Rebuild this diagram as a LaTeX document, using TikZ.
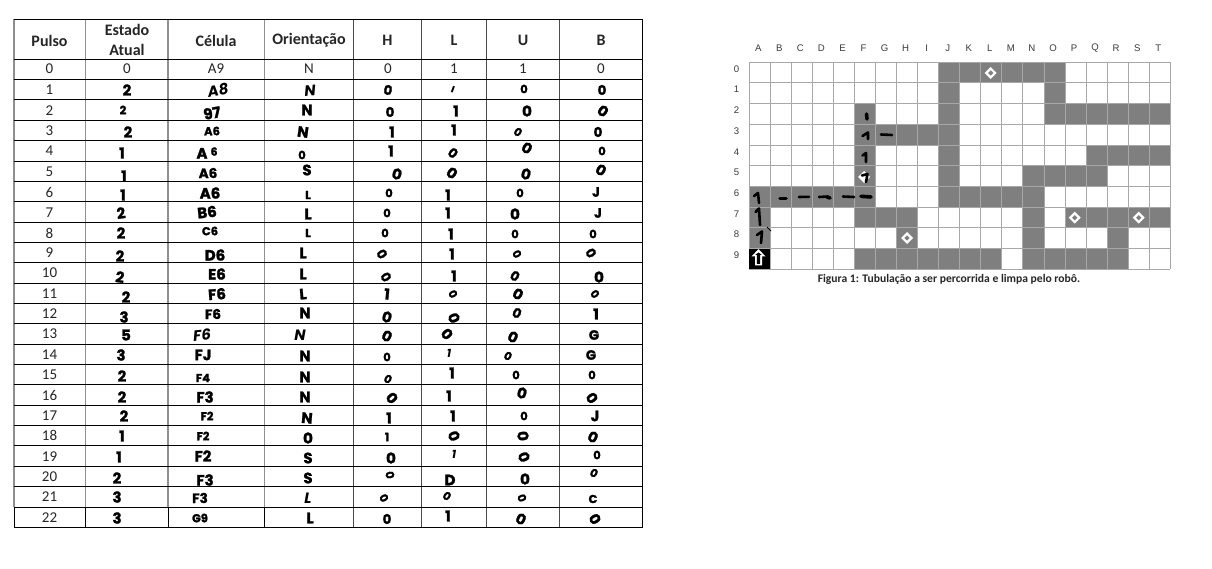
\documentclass[tikz,border=0pt]{standalone}
\usepackage{fontspec}
\setmainfont{Carlito}
\newfontfamily\inkfont[BoldFeatures={FakeBold=1.6}]{Poppins}
\newfontfamily\labfont{Liberation Sans}
\newcount\hwcount
\newcommand{\hw}[4][0]{\global\advance\hwcount by 1
  \node[inktext,rotate=#1] (hw\the\hwcount) at (#2,#3) {#4};}
\newcommand{\hs}[4][0]{\global\advance\hwcount by 1
  \node[inktext,rotate=#1,font=\inkfont\bfseries\fontsize{11.5}{11.5}\selectfont] (hw\the\hwcount) at (#2,#3) {#4};}
\newcommand{\hc}[4][0]{\global\advance\hwcount by 1
  \node[inktext,rotate=#1,font=\inkfont\bfseries\fontsize{13.5}{13.5}\selectfont] (hw\the\hwcount) at (#2,#3) {#4};}
\definecolor{cellgray}{HTML}{7F7F7F}
\definecolor{gridgray}{HTML}{A8A8A8}
\definecolor{labgray}{HTML}{3A3A3A}
\tikzset{
  inktext/.style={inner sep=0pt,font=\inkfont\bfseries\fontsize{15}{15}\selectfont,text=black},
  printed/.style={inner sep=0pt,font=\fontsize{15}{15}\selectfont,text=black!85},
  headtext/.style={inner sep=0pt,font=\bfseries\fontsize{16}{19.5}\selectfont,text=black!85},
  hline/.style={black,line width=0.9pt},
  vgray/.style={gridgray!85!black,line width=1.1pt},
  vdark/.style={black!70,line width=0.9pt},
  gridline/.style={gridgray,line width=1pt},
  inkmark/.style={black,line width=2.6pt,line cap=round,line join=round},
  inkblob/.style={black,line width=3.6pt,line cap=round,line join=round},
  axislabel/.style={inner sep=0pt,font=\labfont\fontsize{9.6}{10}\selectfont,text=labgray},
}
\begin{document}
\begin{tikzpicture}[x=1pt,y=-1pt]
\useasboundingbox (0,0) rectangle (1212,569);
\fill[white] (0,0) rectangle (1212,569);
% ---------- table rules
\foreach \vx in {14,85.3,168,264.5}{\draw[vgray] (\vx,19.3) -- (\vx,507.3);\draw[hline] (\vx,507.3) -- (\vx,527.3);}
\foreach \vx in {353.5,421.5,486,559}{\draw[vdark] (\vx,19.3) -- (\vx,527.3);}
\draw[hline] (642.5,19.3) -- (642.5,527.3);
\foreach \hy in {19.3,59.3,79.3,99.3,120.3,140.7,161.3,181.5,201.3,222.3,242.7,262.7,283,303.3,323.3,344,364,384.5,405,425,445.7,466.7,486.7,507.3,527.3}
  {\draw[hline] (14,\hy) -- (642.5,\hy);}
% ---------- header
\node[headtext] (hPulso) at (49.5,40.5) {Pulso};
\node[headtext,align=center] (hEstado) at (127,40) {Estado\\Atual};
\node[headtext] (hCel) at (216,40.5) {Célula};
\node[headtext] (hOri) at (309,40.5) {Orientação};
\node[headtext] (hH) at (387.5,40.5) {H};
\node[headtext] (hL) at (454,40.5) {L};
\node[headtext] (hU) at (523,40.5) {U};
\node[headtext] (hB) at (601,40.5) {B};
% ---------- first column
\foreach \n/\yy in {0/69,1/89.5,2/110.5,3/130.5,4/151,5/171.5,6/192,7/212.5,8/233,9/253,10/273,11/293.5,12/313.5,13/334,14/354.5,15/375,16/395.5,17/415.5,18/435.5,19/456.5,20/477,21/497,22/517.5}
  {\node[printed] (p\n) at (49.5,\yy) {\n};}
% ---------- printed row 0
\node[printed] (e0) at (127,69) {0};
\node[printed] (c0) at (216,69) {A9};
\node[printed] (o0) at (309,69) {N};
\node[printed] (h0) at (388,69) {0};
\node[printed] (l0) at (454,69) {1};
\node[printed] (u0) at (523,69) {1};
\node[printed] (b0) at (601,69) {0};
% ---------- handwritten rows
\hw{127}{90}{2}\hw[10]{218}{90}{\itshape A8}\hw[5]{310}{91}{\itshape N}\hc[-10]{388}{90}{0}\hs[-10]{453}{89.5}{\itshape ı}\hs{524}{89}{0}\hc{602}{90}{0}
\hs{123}{110}{2}\hw[10]{212}{113}{97}\hw{307}{110}{N}\hc{390}{112}{0}\hw{456}{111}{1}\hw{527}{111}{0}\hw[-35]{603}{111}{0}
\hw{128}{132}{2}\hs{212}{131}{A6}\hw[-8]{303}{132}{N}\hw{392}{132}{1}\hw{454}{130}{1}\hs[-35]{518}{132}{0}\hc{598}{132}{0}
\hw{122}{153}{1}\hw{207}{153}{A\kern3pt\raisebox{3pt}{\fontsize{11}{11}\selectfont 6}}\hs{302}{155}{0}\hw{391}{151}{1}\hc[-40]{453}{153}{0}\hw[-30]{527}{148}{0}\hs{602}{151}{0}
\hw{124}{176}{1}\hc{208}{173}{A6}\hw{307}{170}{S}\hw[-15]{397}{174}{0}\hw[-35]{452}{173}{0}\hw[-15]{526}{174}{0}\hw[-30]{601}{170}{0}
\hw{123}{195}{1}\hw{210}{193}{A6}\hs{308}{195}{L}\hs{389}{193}{0}\hw{448}{195}{1}\hs{520}{193}{0}\hc{596}{192}{J}
\hw[8]{121}{213}{2}\hw[6]{207}{212}{B6}\hw{308}{214}{L}\hs{387}{213}{0}\hw{448}{213}{1}\hw{515}{214}{0}\hc{598}{213}{J}
\hw{121}{233}{2}\hs{210}{231}{C6}\hs{308}{233}{L}\hs{385}{233}{0}\hw{451}{234}{1}\hs{515}{234}{0}\hs{593}{234}{0}
\hw{120}{256}{2}\hw{215}{255}{D6}\hw{303}{253}{L}\hc[-60]{382}{254}{0}\hw{452}{254}{1}\hs[-60]{517}{254}{0}\hc[-60]{591}{253}{0}
\hw[-8]{120}{277}{2}\hw{217}{274}{E6}\hw{303}{274}{L}\hc[-60]{386}{277}{0}\hw{454}{276}{1}\hc[-30]{515}{276}{0}\hw{599}{277}{0}
\hw{126}{297}{2}\hw[4]{217}{294}{F6}\hw[5]{303}{294}{L}\hw[-5]{387}{294}{1}\hs[-60]{453}{294}{0}\hw[-30]{518}{294}{0}\hs[-50]{595}{294}{0}
\hw{124}{317}{3}\hc{213}{314}{F6}\hw{305}{313}{N}\hw[-15]{387}{317}{0}\hw[-70]{454}{318}{0}\hc[-25]{517}{313}{0}\hw{596}{314}{1}
\hw{126}{335}{5}\hw[5]{202}{335}{\itshape F6}\hw{300}{335}{\itshape N}\hw[-25]{387}{336}{0}\hw[-50]{447}{334}{0}\hw[-25]{513}{337}{0}\hc{594}{335}{G}
\hw{121}{355}{3}\hw{203}{355}{FJ}\hw{305}{356}{N}\hs{387}{357}{0}\hs{449}{353}{\itshape 1}\hs[-30]{508}{356}{0}\hc{591}{355}{G}
\hw{122}{376}{2}\hs{203}{378}{F4}\hw{305}{377}{N}\hs[-30]{388}{379}{0}\hw{452}{373}{1}\hs{516}{375}{0}\hs{592}{375}{0}
\hw{122}{397}{2}\hw{205}{397}{F3}\hw{305}{397}{N}\hw[-50]{392}{398}{0}\hw{449}{396}{1}\hw[-15]{522}{393}{0}\hw[-55]{592}{398}{0}
\hw{124}{416}{2}\hs{207}{416}{F2}\hw[-5]{307}{418}{N}\hw{389}{418}{1}\hw{453}{416}{1}\hs{524}{416}{0}\hw{595}{416}{J}
\hw{122}{436}{1}\hs{203}{436}{F2}\hw{308}{438}{0}\hs{387}{437}{1}\hw[-70]{454}{436}{0}\hw[-85]{523}{436}{0}\hw[-25]{593}{437}{0}
\hw{119}{457}{1}\hw{203}{456}{F2}\hw{308}{458}{S}\hw{391}{458}{0}\hs{454}{454}{\itshape 1}\hw[-70]{524}{457}{0}\hs{597}{455}{0}
\hw{117}{478}{2}\hw{205}{480}{F3}\hw{308}{478}{S}\hs[-80]{390}{475}{0}\hw{450}{480}{D}\hw{525}{479}{0}\hs[-30]{594}{473}{0}
\hw{117}{497}{3}\hc{200}{498}{F3}\hw{308}{498}{\itshape L}\hs[-60]{384}{498}{0}\hs[-35]{447}{496}{0}\hs[-70]{522}{498}{0}\hs{593}{499}{C}
\hw{117}{518}{3}\hs{200}{518}{G9}\hw{310}{518}{L}\hc{387}{519}{0}\hw{448}{516}{1}\hw[-25]{521}{519}{0}\hw[-60]{595}{519}{0}
% ---------- grid: gray cells
\def\gx#1{749.3+#1*21.05}
\def\gy#1{62.3+#1*20.7}
\foreach \cc/\rr in {9/0,10/0,11/0,12/0,13/0,14/0,
  9/1,14/1,
  5/2,9/2,14/2,15/2,16/2,17/2,18/2,19/2,
  5/3,6/3,7/3,8/3,9/3,
  5/4,9/4,16/4,17/4,18/4,19/4,
  5/5,9/5,13/5,14/5,15/5,16/5,
  0/6,1/6,2/6,3/6,4/6,5/6,9/6,10/6,11/6,12/6,13/6,
  0/7,5/7,6/7,7/7,13/7,15/7,16/7,17/7,18/7,19/7,
  0/8,7/8,13/8,17/8,
  5/9,6/9,7/9,8/9,9/9,10/9,11/9,13/9,14/9,15/9,16/9,17/9}
  {\fill[cellgray] ({\gx{\cc}},{\gy{\rr}}) rectangle ({\gx{\cc}+21.05},{\gy{\rr}+20.7});}
% ---------- grid lines
\foreach \cc in {0,...,20}{\draw[gridline] ({\gx{\cc}},62.3) -- ({\gx{\cc}},269.3);}
\foreach \rr in {0,...,10}{\draw[gridline] (749.3,{\gy{\rr}}) -- (1170.3,{\gy{\rr}});}
\fill[black] ({\gx{0}},{\gy{9}}) rectangle ({\gx{0}+21.05},{\gy{9}+20.7});
% ---------- axis labels
\foreach \t [count=\i from 0] in {A,B,C,D,E,F,G,H,I,J,K,L,M,N,O,P,Q,R,S,T}
  {\node[axislabel] (col\t) at ({758.3+\i*21.05},48) {\t};}
\foreach \i in {0,...,9}{\node[axislabel] (row\i) at (736.5,{69+\i*20.7}) {\i};}
% ---------- diamonds
\foreach \dx/\dy in {990.7/73,907/238,1074.7/217.7,1138.7/217.7}{
  \fill[white] (\dx-6,\dy) -- (\dx,\dy-6) -- (\dx+6,\dy) -- (\dx,\dy+6) -- cycle;
  \fill[cellgray] (\dx-2.6,\dy) -- (\dx,\dy-2.6) -- (\dx+2.6,\dy) -- (\dx,\dy+2.6) -- cycle;
}
\fill[white] (858,177) -- (864,171) -- (870,177) -- (864,183) -- cycle;
% ---------- robot arrow
\fill[white] (758.5,249) -- (765.5,256.5) -- (762,256.5) -- (762,265.5) -- (755,265.5) -- (755,256.5) -- (751.5,256.5) -- cycle;
\fill[black] (758.5,252.5) -- (761.8,255) -- (760.2,255) -- (760.2,263.8) -- (756.8,263.8) -- (756.8,255) -- (755.2,255) -- cycle;
% ---------- ink marks on the grid
\draw[inkmark] (754,196) -- (758,193) -- (759,203);
\draw[inkmark] (755.5,212) -- (759,208.5) -- (760,225);
\draw[inkmark] (757,235) -- (762,231.5) -- (761,243);
\draw[black,line width=1pt] (767,227) -- (771,231);
\draw[inkblob] (780,198.5) -- (786,198.5);
\draw[inkmark] (799,197) -- (809,196.8);
\draw[inkmark] (819,197) -- (828,196.5);
\draw[inkblob] (827,197) -- (830,198);
\draw[inkmark] (843,196.5) -- (854,197);
\draw[inkblob] (861,196.3) -- (871,197);
\draw[inkblob] (866.5,114) -- (867,119);
\draw[inkmark] (862.5,136) -- (868,132.5) -- (868,139);
\draw[inkmark] (881,134.5) -- (892,135);
\draw[inkmark] (862.5,155.5) -- (866,153) -- (866,162);
\draw[inkmark] (862,175.5) -- (867.5,174) -- (866,182);
% ---------- caption
\node[inner sep=0pt,font=\bfseries\fontsize{11.6}{12}\selectfont,text=black!85] (cap) at (949,279) {Figura 1: Tubulação a ser percorrida e limpa pelo robô.};
\end{tikzpicture}
\end{document}
